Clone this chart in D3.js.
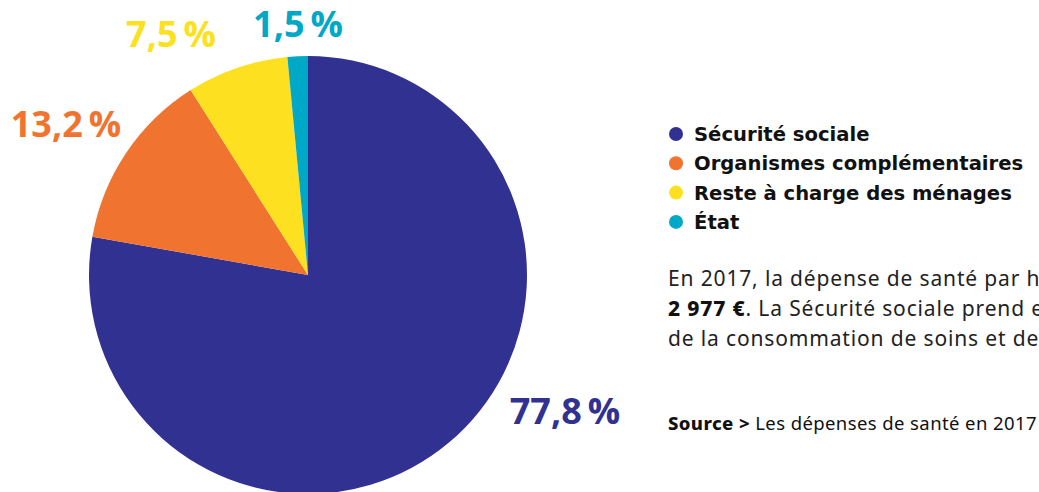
<!DOCTYPE html>
<html lang="fr">
<head>
<meta charset="utf-8">
<script src="https://cdn.jsdelivr.net/npm/d3@7"></script>
<style>
  html, body { margin: 0; padding: 0; background: #fff; overflow: hidden; }
  svg { display: block; }
</style>
</head>
<body>
<svg id="chart" width="1039" height="492"></svg>
<script>
// Répartition du financement de la dépense de santé, 2017
const categories = ["Sécurité sociale", "Organismes complémentaires", "Reste à charge des ménages", "État"];
const shares = [77.8, 13.2, 7.5, 1.5];
const valueLabels = ["77,8\u2009%", "13,2\u2009%", "7,5\u2009%", "1,5\u2009%"];
const colors = ["#313192", "#f17330", "#fde121", "#00a8c8"];

const svg = d3.select("#chart");

const cx = 308, cy = 275, radius = 219;

const pie = d3.pie().sort(null).value(d => d.value);
const arcs = pie(categories.map((c, i) => ({ name: c, value: shares[i], color: colors[i], label: valueLabels[i] })));
const arc = d3.arc().innerRadius(0).outerRadius(radius);

const g = svg.append("g").attr("transform", `translate(${cx},${cy})`);
g.selectAll("path")
  .data(arcs)
  .join("path")
  .attr("d", arc)
  .attr("fill", d => d.data.color);

// Percentage labels placed outside each slice
const labelPos = [
  { x: 565, y: 424 },
  { x: 66, y: 137 },
  { x: 171, y: 47 },
  { x: 298, y: 37 }
];
svg.append("g")
  .selectAll("text")
  .data(arcs)
  .join("text")
  .attr("x", (d, i) => labelPos[i].x)
  .attr("y", (d, i) => labelPos[i].y)
  .attr("text-anchor", "middle")
  .attr("font-family", "'Open Sans', sans-serif")
  .attr("font-weight", 700)
  .attr("font-size", 36)
  .attr("fill", d => d.data.color)
  .text(d => d.data.label);

// Legend
const legend = svg.append("g").attr("transform", "translate(676,134)");
const rows = legend.selectAll("g")
  .data(arcs)
  .join("g")
  .attr("transform", (d, i) => `translate(0,${i * 29.3})`);
rows.append("circle").attr("r", 7).attr("fill", d => d.data.color);
rows.append("text")
  .attr("x", 18)
  .attr("y", 7)
  .attr("font-family", "'DejaVu Sans', sans-serif")
  .attr("font-weight", 700)
  .attr("font-size", 19.6)
  .attr("fill", "#111")
  .text(d => d.data.name);

// Commentary text
const body = svg.append("g")
  .attr("font-family", "'Noto Sans', sans-serif")
  .attr("font-size", 21)
  .attr("letter-spacing", 0.85)
  .attr("fill", "#222");
body.append("text").attr("x", 668).attr("y", 286)
  .text("En 2017, la dépense de santé par habitant s’élève à");
const l2 = body.append("text").attr("x", 668).attr("y", 316);
l2.append("tspan").attr("font-weight", 800).attr("fill", "#111").text("2 977 €");
l2.append("tspan").text(". La Sécurité sociale prend en charge 77,8 %");
body.append("text").attr("x", 668).attr("y", 346)
  .text("de la consommation de soins et de biens médicaux.");

const src = svg.append("text")
  .attr("x", 668).attr("y", 430)
  .attr("font-family", "'Noto Sans', sans-serif")
  .attr("font-size", 18.5)
  .attr("letter-spacing", 0.4)
  .attr("fill", "#111");
src.append("tspan").attr("font-weight", 800).text("Source > ");
src.append("tspan").text("Les dépenses de santé en 2017");
</script>
</body>
</html>
